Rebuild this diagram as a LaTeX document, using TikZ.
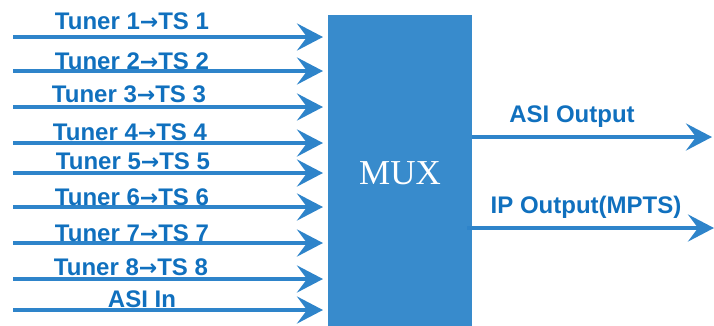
\documentclass[tikz,border=0pt]{standalone}
\usepackage{fontspec}
\setmainfont{Liberation Sans}
\newfontfamily\muxfont{Liberation Serif}
\newfontfamily\arrfont{DejaVu Sans}
\usetikzlibrary{arrows.meta,calc}
\definecolor{boxblue}{RGB}{56,139,204}
\definecolor{arrblue}{RGB}{46,132,202}
\definecolor{txtblue}{RGB}{16,112,190}
\tikzset{
  sig/.style={line width=4pt, draw=arrblue, -{Stealth[length=26pt,width=27pt,inset=10pt]}},
  lbl/.style={text=txtblue, font=\fontsize{24}{24}\selectfont\bfseries, inner sep=0pt, anchor=center},
}
\newcommand{\tarr}{{\arrfont\fontsize{22}{22}\selectfont →}}
\begin{document}
\begin{tikzpicture}[x=1pt,y=-1pt]
\useasboundingbox (0,0) rectangle (714,325);
\node[fill=boxblue, draw=none, minimum width=144pt, minimum height=311pt, inner sep=0pt, anchor=north west] (mux) at (328,15) {};
\node[text=white, font=\muxfont\fontsize{35}{35}\selectfont] (muxt) at (400,173) {MUX};
% inputs
\foreach \i/\y/\ly/\lx in {1/37/21/132, 2/71/61/132, 3/107/94/129, 4/143/132/130, 5/173/161/133, 6/207/197/132, 7/243/233/132, 8/279/267/131}{
  \coordinate (s\i) at (13,\y);
  \draw[sig] (s\i) -- ([xshift=-5pt]mux.west |- s\i);
  \node[lbl] (l\i) at (\lx,\ly) {Tuner \i\tarr TS \i};
}
\coordinate (s9) at (13,310);
\draw[sig] (s9) -- ([xshift=-5pt]mux.west |- s9);
\node[lbl] (l9) at (142,299) {ASI In};
% outputs
\coordinate (o1) at (712,137);
\coordinate (o2) at (714,228);
\draw[sig] (mux.east |- o1) -- (o1);
\draw[sig] ([xshift=-5pt]mux.east |- o2) -- (o2);
\node[lbl] (lo1) at (572,117) {ASI Output};
\node[lbl] (lo2) at (586,207) {IP Output(MPTS)};
\end{tikzpicture}
\end{document}
